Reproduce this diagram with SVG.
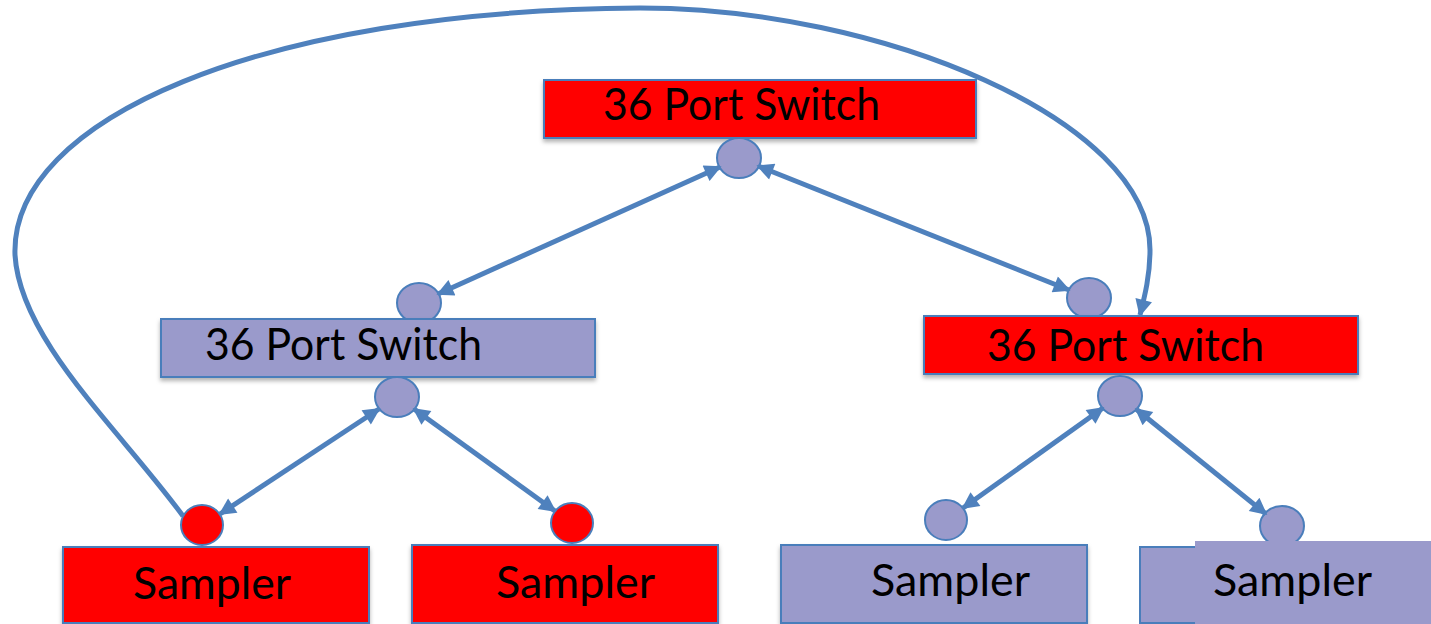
<svg xmlns="http://www.w3.org/2000/svg" width="1431" height="624" viewBox="0 0 1431 624">
<style>
.box{stroke:#4A7EBB;stroke-width:2}
.red{fill:#FF0000}
.lav{fill:#9A9ACB}
.port{stroke:#4A7EBB;stroke-width:2}
.lbl{font-family:Lato,"Liberation Sans",sans-serif;font-size:44px;fill:#000}
.con{fill:none;stroke:#4F81BD;stroke-width:5}
</style>
<defs>
<filter id="sh" x="-5%" y="-5%" width="110%" height="130%">
<feDropShadow dx="0" dy="3" stdDeviation="2" flood-color="#000" flood-opacity="0.3"/>
</filter>
<marker id="ah" viewBox="0 0 10 10" refX="9" refY="5" markerWidth="4" markerHeight="3.4" orient="auto-start-reverse">
<path d="M0,0 L10,5 L0,10 z" fill="#4F81BD"/>
</marker>
</defs>
<rect width="1431" height="624" fill="#fff"/>
<g id="switch-top">
<rect class="box red" x="544" y="80" width="432" height="58" filter="url(#sh)"/>
<text class="lbl" x="603" y="120" textLength="277" lengthAdjust="spacingAndGlyphs">36 Port Switch</text>
<ellipse class="port lav" cx="739" cy="158" rx="22" ry="20"/>
</g>
<g id="switch-left">
<ellipse class="port lav" cx="419" cy="303" rx="22" ry="20"/>
<rect class="box lav" x="161" y="319" width="434" height="58" filter="url(#sh)"/>
<text class="lbl" x="205" y="360" textLength="277" lengthAdjust="spacingAndGlyphs">36 Port Switch</text>
<ellipse class="port lav" cx="397" cy="397" rx="22" ry="20"/>
</g>
<g id="switch-right">
<ellipse class="port lav" cx="1089" cy="298" rx="22" ry="20"/>
<rect class="box red" x="924" y="316" width="434" height="58" filter="url(#sh)"/>
<text class="lbl" x="987" y="361" textLength="277" lengthAdjust="spacingAndGlyphs">36 Port Switch</text>
<ellipse class="port lav" cx="1120" cy="396" rx="22" ry="20"/>
</g>
<g id="sampler-1">
<ellipse class="port red" cx="202" cy="525" rx="21" ry="20"/>
<rect class="box red" x="63" y="547" width="306" height="76" filter="url(#sh)"/>
<text class="lbl" x="133" y="599" textLength="158" lengthAdjust="spacingAndGlyphs">Sampler</text>
</g>
<g id="sampler-2">
<ellipse class="port red" cx="572" cy="523" rx="21" ry="20"/>
<rect class="box red" x="412" y="545" width="306" height="78" filter="url(#sh)"/>
<text class="lbl" x="496" y="598" textLength="159" lengthAdjust="spacingAndGlyphs">Sampler</text>
</g>
<g id="sampler-3">
<ellipse class="port lav" cx="946" cy="520" rx="21" ry="20"/>
<rect class="box lav" x="781" y="545" width="306" height="78" filter="url(#sh)"/>
<text class="lbl" x="871" y="596" textLength="159" lengthAdjust="spacingAndGlyphs">Sampler</text>
</g>
<g id="sampler-4">
<ellipse class="port lav" cx="1282" cy="526" rx="22" ry="20"/>
<rect class="box lav" x="1140" y="547" width="300" height="76"/>
<rect class="lav" x="1195" y="541" width="240" height="83"/>
<text class="lbl" x="1213" y="596" textLength="159" lengthAdjust="spacingAndGlyphs">Sampler</text>
</g>
<g id="connectors">
<line class="con" x1="720" y1="167" x2="438" y2="294" marker-start="url(#ah)" marker-end="url(#ah)"/>
<line class="con" x1="758" y1="166" x2="1069" y2="290" marker-start="url(#ah)" marker-end="url(#ah)"/>
<line class="con" x1="379" y1="409" x2="220" y2="514" marker-start="url(#ah)" marker-end="url(#ah)"/>
<line class="con" x1="414" y1="409" x2="555" y2="511" marker-start="url(#ah)" marker-end="url(#ah)"/>
<line class="con" x1="1103" y1="408" x2="963" y2="508" marker-start="url(#ah)" marker-end="url(#ah)"/>
<line class="con" x1="1136" y1="409" x2="1266" y2="514" marker-start="url(#ah)" marker-end="url(#ah)"/>
<path class="con" d="M183,516 C120,430 20,340 15,255 C10,120 260,10 640,8 C880,8 1150,120 1150,250 C1150,275 1145,295 1140,315" marker-end="url(#ah)"/>
</g>
</svg>
